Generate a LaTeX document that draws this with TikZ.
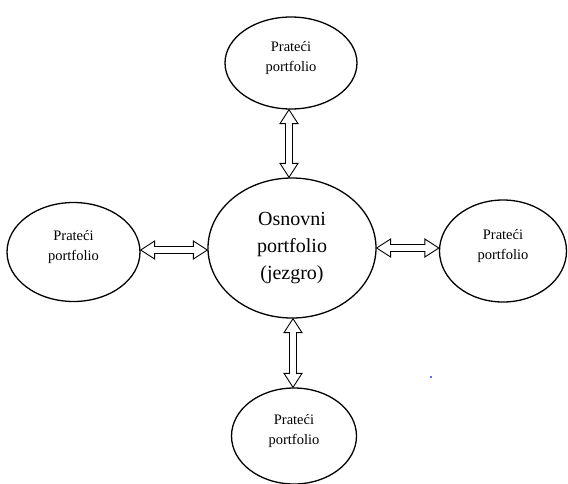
\documentclass[tikz,border=0pt]{standalone}
\usepackage{fontspec}
\setmainfont{Liberation Serif}
\usetikzlibrary{calc,shapes.geometric}
\newcommand\hollowarrow[2]{%
  \begin{scope}
    \coordinate (ha1) at ($(#1)!14pt!(#2)$);
    \coordinate (ha2) at ($(#2)!14pt!(#1)$);
    \draw[arrowline]
      (#1) -- ($(ha1)!9pt!90:(#2)$) -- ($(ha1)!3.5pt!90:(#2)$)
      -- ($(ha2)!3.5pt!-90:(#1)$) -- ($(ha2)!9pt!-90:(#1)$)
      -- (#2) -- ($(ha2)!9pt!90:(#1)$) -- ($(ha2)!3.5pt!90:(#1)$)
      -- ($(ha1)!3.5pt!-90:(#2)$) -- ($(ha1)!9pt!-90:(#2)$) -- cycle;
  \end{scope}}
\begin{document}
\begin{tikzpicture}[x=1pt,y=-1pt,
  oval/.style={ellipse, draw, line width=1.3pt, inner sep=0pt, align=center},
  side/.style={oval, font=\fontsize{14.5}{20}\selectfont, text depth=14pt},
  arrowline/.style={draw, line width=0.9pt, fill=white, line join=miter}]
\useasboundingbox (0,0) rectangle (568,483);
\node[oval, minimum width=168pt, minimum height=140pt,
      font=\fontsize{20}{27}\selectfont] (core) at (292,248)
      {Osnovni\\portfolio\\(jezgro)};
\node[side, minimum width=132pt, minimum height=92pt] (top) at (291,63) {Prateći\\portfolio};
\node[side, minimum width=133pt, minimum height=99pt] (left) at (73.5,252) {Prateći\\portfolio};
\node[side, minimum width=127pt, minimum height=102pt] (right) at (503,251) {Prateći\\portfolio};
\node[side, minimum width=125pt, minimum height=96pt] (bottom) at (294,436) {Prateći\\portfolio};
\coordinate (vx1) at (289,0);
\coordinate (vx2) at (293,0);
\coordinate (hy1) at (0,250);
\coordinate (hy2) at (0,248);
\coordinate (tA) at (top.south -| vx1);
\coordinate (tB) at (core.north -| vx1);
\hollowarrow{tA}{tB}
\coordinate (bA) at (core.south -| vx2);
\coordinate (bB) at (bottom.north -| vx2);
\hollowarrow{bA}{bB}
\coordinate (lA) at (left.east |- hy1);
\coordinate (lB) at (core.west |- hy1);
\hollowarrow{lA}{lB}
\coordinate (rA) at (core.east |- hy2);
\coordinate (rB) at (right.west |- hy2);
\hollowarrow{rA}{rB}
\fill[blue!60] (430,376) rectangle (432,378);
\end{tikzpicture}
\end{document}
